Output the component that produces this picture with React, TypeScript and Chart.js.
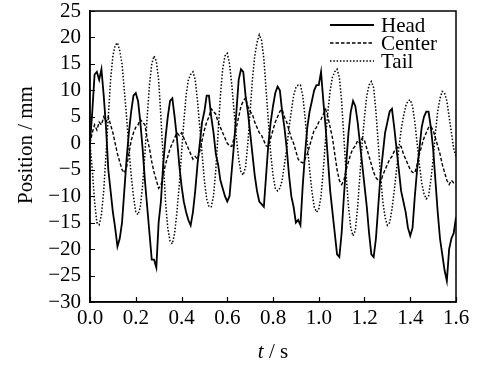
import React, { useEffect, useRef } from "react";
import { Chart, registerables } from "chart.js";

Chart.register(...registerables);

// sample times (s)
const times = [
  0.00, 0.01, 0.02, 0.03, 0.04, 0.05, 0.06, 0.07, 0.08, 0.09,
  0.10, 0.11, 0.12, 0.13, 0.14, 0.15, 0.16, 0.17, 0.18, 0.19,
  0.20, 0.21, 0.22, 0.23, 0.24, 0.25, 0.26, 0.27, 0.28, 0.29,
  0.30, 0.31, 0.32, 0.33, 0.34, 0.35, 0.36, 0.37, 0.38, 0.39,
  0.40, 0.41, 0.42, 0.43, 0.44, 0.45, 0.46, 0.47, 0.48, 0.49,
  0.50, 0.51, 0.52, 0.53, 0.54, 0.55, 0.56, 0.57, 0.58, 0.59,
  0.60, 0.61, 0.62, 0.63, 0.64, 0.65, 0.66, 0.67, 0.68, 0.69,
  0.70, 0.71, 0.72, 0.73, 0.74, 0.75, 0.76, 0.77, 0.78, 0.79,
  0.80, 0.81, 0.82, 0.83, 0.84, 0.85, 0.86, 0.87, 0.88, 0.89,
  0.90, 0.91, 0.92, 0.93, 0.94, 0.95, 0.96, 0.97, 0.98, 0.99,
  1.00, 1.01, 1.02, 1.03, 1.04, 1.05, 1.06, 1.07, 1.08, 1.09,
  1.10, 1.11, 1.12, 1.13, 1.14, 1.15, 1.16, 1.17, 1.18, 1.19,
  1.20, 1.21, 1.22, 1.23, 1.24, 1.25, 1.26, 1.27, 1.28, 1.29,
  1.30, 1.31, 1.32, 1.33, 1.34, 1.35, 1.36, 1.37, 1.38, 1.39,
  1.40, 1.41, 1.42, 1.43, 1.44, 1.45, 1.46, 1.47, 1.48, 1.49,
  1.50, 1.51, 1.52, 1.53, 1.54, 1.55, 1.56, 1.57, 1.58, 1.59,
  1.60,
];

// Head position (mm)
const head = [
  0, 6, 13, 13.5, 12, 14, 9, 3, -5, -9,
  -13, -16, -19.5, -18, -15, -9, -3, 2, 6, 9,
  9.5, 8, 4, -1, -7, -12, -17, -22, -22, -23.5,
  -15, -11, -4, 1, 5, 8, 8.5, 5, 1, -4,
  -8, -11, -13, -14.5, -15.5, -13, -9, -4, 0, 4,
  6, 9, 9, 5, 2, -2, -4, -7, -8.5, -10,
  -11, -10, -5, 0, 6, 12, 14, 13.5, 9, 6,
  2, -2, -6, -9, -11, -11.5, -12, -6, 0, 4,
  7, 9.5, 10.7, 10, 6, 3, -1, -6, -10, -12,
  -15, -14.5, -15.5, -8, -2, 3, 6, 8, 10, 11,
  11, 13.5, 8, 3, -3, -9, -13, -17, -21, -21.5,
  -17, -10, -4, 2, 6, 8, 7, 4, 0, -4,
  -8, -12, -17, -21, -21.5, -18, -12, -6, -2, 2,
  4, 6, 6.5, 3, -1, -5, -9, -11, -13, -16,
  -17.5, -16, -10, -5, -1, 3, 5, 6, 6, 3,
  -1, -7, -13, -18, -21, -24, -26, -20, -18, -17,
  -14,
];

// Center position (mm)
const center = [
  0, 2, 3.5, 2.5, 4, 3.5, 5, 4, 5, 3.5,
  2, 0, -2, -3.5, -5, -5.6, -4.5, -2, 0.5, 2,
  3, 3.5, 4.5, 4, 3.5, 1, -1, -3.5, -5.5, -7,
  -8.5, -8, -6, -4, -2.5, -1, 0, 1, 2, 1.5,
  2, 1, 0, -1, -2, -3, -2.5, -3, -1.5, 0.5,
  2.5, 4, 5, 6.5, 6, 5.5, 4, 3, 2, 1,
  0, -0.5, -0.6, 1, 3, 5, 7, 8, 8.6, 7,
  6, 5.5, 4, 3, 2, 1.5, 0.5, -0.5, -0.6, 1,
  2.5, 4, 5, 6, 6.4, 5, 4, 2.5, 1, 0,
  -1.5, -3, -3.5, -3.7, -3, -2, -0.5, 1, 2.5, 3,
  4, 4.5, 5.5, 6.4, 5, 3, 1, -2, -5, -7,
  -7.8, -7, -5, -3.5, -2, -1, -0.5, 0.5, 0, 1,
  0.5, -1, -2.5, -4, -5.5, -6.5, -7, -7.4, -6, -5,
  -4, -3, -2.5, -1.5, -1, -0.5, -0.6, -2, -3, -4,
  -5, -5.5, -5.6, -4, -2, -0.5, 1, 2, 3, 3.2,
  2.5, 1, -0.5, -2, -4, -5.5, -7, -7.8, -7, -7.5,
  -7.4,
];

// Tail position (mm)
const tail = [
  0, -5, -11, -15, -15.4, -13.5, -9, -2, 5, 12,
  16.5, 18.5, 19, 17.5, 15, 10, 5, -1, -6, -10,
  -13, -13.5, -12, -8, -2, 5, 11, 15, 16.5, 15.5,
  12, 5, -3, -11, -16, -18.5, -19, -17, -13, -8,
  -2, 4, 9, 12, 13, 13.5, 12, 8, 3, -2,
  -7, -10.5, -12, -12, -10, -5, 2, 9, 14, 16.5,
  17, 15, 11, 6, 1, -3, -5.5, -6, -4.5, 0,
  6, 12, 16.5, 19, 20.5, 19.5, 16, 10, 4, -2,
  -6, -8.5, -9, -8.5, -7, -4, -1, 3, 6, 9,
  10.5, 11, 11, 9, 5, 0, -5, -9, -12, -13,
  -12.5, -10, -5, 1, 6, 10, 12.5, 13.5, 14, 12.5,
  8, 1, -6, -12, -16, -17.5, -16.5, -12, -6, 0,
  5, 9, 11, 11.7, 10.5, 6, 0, -6, -11, -14,
  -15.5, -15, -12.5, -9, -5, -1, 2.5, 5, 7, 8,
  8.2, 7, 4, 0, -4, -7.5, -9.5, -10.5, -10, -7,
  -3, 2, 6, 8.5, 9.8, 9.5, 8, 5, 2, -1,
  -2.5,
];

const seriesNames = ["Head", "Center", "Tail"];
const xTicks = [0, 0.2, 0.4, 0.6, 0.8, 1.0, 1.2, 1.4, 1.6];
const yTicks = [-30, -25, -20, -15, -10, -5, 0, 5, 10, 15, 20, 25];

const FONT = "'Liberation Serif', 'Times New Roman', serif";
const FS = 21;
const dashes: number[][] = [[], [3.5, 2], [1.5, 1.8]];
const widths = [1.8, 1.4, 1.5];

const fmtY = (v: number) => (v < 0 ? "\u2212" + Math.abs(v) : String(v));

const decorPlugin = {
  id: "decor",
  afterDraw(chart: any) {
    const { ctx, chartArea } = chart;
    const { left, right, top, bottom } = chartArea;
    const xs = chart.scales.x;
    const ys = chart.scales.y;
    ctx.save();
    ctx.strokeStyle = "#000";
    ctx.lineWidth = 1.5;
    ctx.strokeRect(left, top, right - left, bottom - top);
    ctx.lineWidth = 1.2;
    ctx.beginPath();
    for (const v of yTicks) {
      const y = Math.round(ys.getPixelForValue(v)) + 0.5;
      ctx.moveTo(left, y);
      ctx.lineTo(left + 5, y);
    }
    for (const v of xTicks) {
      const x = Math.round(xs.getPixelForValue(v)) + 0.5;
      ctx.moveTo(x, bottom);
      ctx.lineTo(x, bottom - 5);
    }
    ctx.stroke();

    // legend
    ctx.fillStyle = "#000";
    ctx.font = `${FS}px ${FONT}`;
    ctx.textBaseline = "middle";
    ctx.textAlign = "left";
    const rowsY = [25, 43, 61];
    seriesNames.forEach((name, i) => {
      ctx.beginPath();
      ctx.setLineDash(dashes[i]);
      ctx.lineWidth = widths[i];
      ctx.moveTo(330, rowsY[i]);
      ctx.lineTo(374, rowsY[i]);
      ctx.stroke();
      ctx.setLineDash([]);
      ctx.fillText(name, 381, rowsY[i] + 1);
    });

    // axis titles
    ctx.font = `${FS}px ${FONT}`;
    ctx.textAlign = "center";
    ctx.save();
    ctx.translate(26, 145);
    ctx.rotate(-Math.PI / 2);
    ctx.fillText("Position / mm", 0, 0);
    ctx.restore();

    ctx.textAlign = "left";
    ctx.font = `italic ${FS}px ${FONT}`;
    const tW = ctx.measureText("t").width;
    ctx.font = `${FS}px ${FONT}`;
    const restW = ctx.measureText(" / s").width;
    const total = tW + restW;
    const x0 = (left + right) / 2 - total / 2;
    ctx.font = `italic ${FS}px ${FONT}`;
    ctx.fillText("t", x0, 352);
    ctx.font = `${FS}px ${FONT}`;
    ctx.fillText(" / s", x0 + tW, 352);
    ctx.restore();
  },
};

export default function App() {
  const ref = useRef<HTMLCanvasElement | null>(null);
  useEffect(() => {
    if (!ref.current) return;
    const series = [head, center, tail];
    const chart = new Chart(ref.current, {
      type: "line",
      data: {
        datasets: series.map((vals, i) => ({
          label: seriesNames[i],
          data: times.map((t, k) => ({ x: t, y: vals[k] })),
          borderColor: "#000",
          borderWidth: widths[i],
          borderDash: dashes[i],
          pointRadius: 0,
          tension: 0,
          fill: false,
        })),
      },
      options: {
        responsive: false,
        animation: false,
        layout: { padding: { top: 11, right: 28, left: 0, bottom: 0 } },
        plugins: { legend: { display: false }, tooltip: { enabled: false } },
        scales: {
          x: {
            type: "linear",
            min: 0,
            max: 1.6,
            afterFit: (s: any) => {
              s.height = 67;
              s.paddingLeft = 0;
              s.paddingRight = 0;
            },
            afterBuildTicks: (s: any) => {
              s.ticks = xTicks.map((v) => ({ value: v }));
            },
            ticks: {
              callback: (v: any) => Number(v).toFixed(1),
              font: { family: FONT, size: FS },
              color: "#000",
              padding: 4,
              maxRotation: 0,
              autoSkip: false,
            },
            grid: { display: false, drawTicks: false },
            border: { display: true, color: "#000", width: 1.5 },
          },
          y: {
            type: "linear",
            min: -30,
            max: 25,
            afterFit: (s: any) => {
              s.width = 90;
              s.paddingTop = 0;
              s.paddingBottom = 0;
            },
            afterBuildTicks: (s: any) => {
              s.ticks = yTicks.map((v) => ({ value: v }));
            },
            ticks: {
              callback: (v: any) => fmtY(Number(v)),
              font: { family: FONT, size: FS },
              color: "#000",
              padding: 9,
              autoSkip: false,
            },
            grid: { display: false, drawTicks: false },
            border: { display: true, color: "#000", width: 1.5 },
          },
        },
      },
      plugins: [decorPlugin],
    });
    return () => chart.destroy();
  }, []);
  return (
    <div style={{ position: "absolute", left: 0, top: 0, width: 484, height: 369, background: "#fff" }}>
      <canvas ref={ref} width={484} height={369} style={{ width: 484, height: 369 }} />
    </div>
  );
}
